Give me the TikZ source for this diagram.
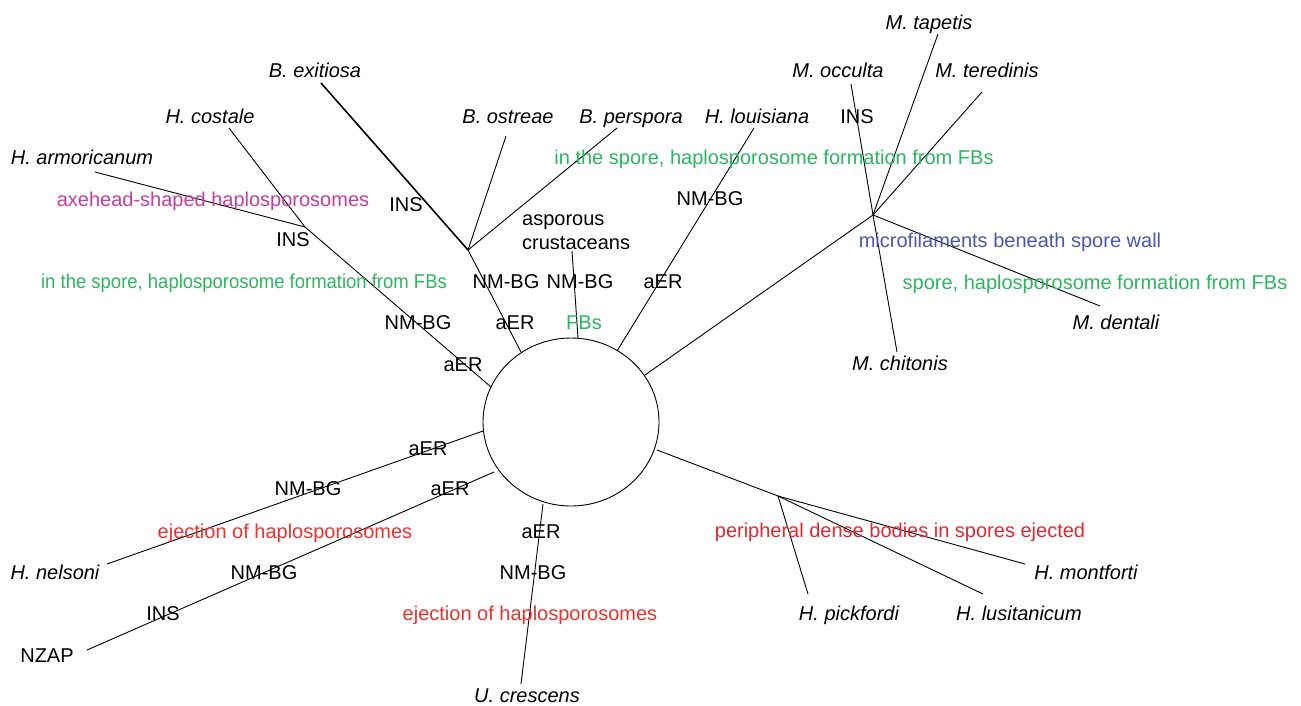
\documentclass[tikz,border=0pt]{standalone}
\usepackage{fontspec}
\setmainfont{Liberation Sans}
\usetikzlibrary{shapes.geometric}
\definecolor{cgreen}{RGB}{44,182,96}
\definecolor{cmag}{RGB}{196,62,158}
\definecolor{cblue}{RGB}{72,88,170}
\definecolor{cred}{RGB}{236,50,48}
\definecolor{cred2}{RGB}{222,40,50}
\tikzset{
  lbl/.style={inner sep=0pt, text height=14.3bp, text depth=0pt, anchor=center, font=\fontsize{20bp}{24bp}\selectfont},
  sp/.style={lbl, font=\fontsize{20bp}{24bp}\selectfont\itshape},
  mk/.style={lbl},
  grn/.style={lbl, text=cgreen},
  edge/.style={draw=black, line width=0.9bp},
  thickedge/.style={draw=black, line width=1.6bp}
}
\begin{document}
\begin{tikzpicture}[x=1bp,y=-1bp]
\useasboundingbox (0,0) rectangle (1301,705);
% central circle
\node (core) [ellipse, draw, line width=0.9bp, minimum width=176bp, minimum height=168bp, inner sep=0pt] at (571,422) {};
% junctions and line ends
\coordinate (Hj) at (305,227);
\coordinate (Bj) at (468,250);
\coordinate (Mj) at (873,215);
\coordinate (Pj) at (778,496);
\coordinate (eArm) at (95,172);
\coordinate (eCos) at (229,128);
\coordinate (eExi) at (321,83);
\coordinate (eOst) at (506,136);
\coordinate (ePer) at (617,128);
\coordinate (eAsp) at (572,251);
\coordinate (eLou) at (754,128);
\coordinate (eOcc) at (851,84);
\coordinate (eTap) at (938,34);
\coordinate (eTer) at (982,92);
\coordinate (eDen) at (1100,306);
\coordinate (eChi) at (897,352);
\coordinate (eMon) at (1025,564);
\coordinate (ePic) at (808,594);
\coordinate (eLus) at (983,594);
\coordinate (eUcr) at (521,684);
\coordinate (eNza) at (87,650);
\coordinate (eNel) at (107,564);
% points on circle
\coordinate (cH) at (491,387);
\coordinate (cB) at (521,352);
\coordinate (cA) at (578,338);
\coordinate (cL) at (617,351);
\coordinate (cM) at (645,375);
\coordinate (cP) at (657,450);
\coordinate (cU) at (543,504);
\coordinate (cZ) at (494,472);
\coordinate (cN) at (483,431);
% connectors
\draw[edge] (eArm) -- (Hj);
\draw[edge] (eCos) -- (Hj);
\draw[edge] (Hj) -- (cH);
\draw[thickedge] (eExi) -- (Bj);
\draw[edge] (eOst) -- (Bj);
\draw[edge] (ePer) -- (Bj);
\draw[edge] (Bj) -- (cB);
\draw[edge] (eAsp) -- (cA);
\draw[edge] (eLou) -- (cL);
\draw[edge] (eOcc) -- (Mj);
\draw[edge] (eTap) -- (Mj);
\draw[edge] (eTer) -- (Mj);
\draw[edge] (Mj) -- (eDen);
\draw[edge] (Mj) -- (eChi);
\draw[edge] (Mj) -- (cM);
\draw[edge] (cP) -- (Pj);
\draw[edge] (Pj) -- (eMon);
\draw[edge] (Pj) -- (ePic);
\draw[edge] (Pj) -- (eLus);
\draw[edge] (cU) -- (eUcr);
\draw[edge] (cZ) -- (eNza);
\draw[edge] (cN) -- (eNel);
% species labels
\node[sp] (exi) at (315,70) {B. exitiosa};
\node[sp] (cos) at (210,116) {H. costale};
\node[sp] (ost) at (508,116) {B. ostreae};
\node[sp] (per) at (631,116) {B. perspora};
\node[sp] (arm) at (82,157) {H. armoricanum};
\node[sp] (lou) at (757,116) {H. louisiana};
\node[sp] (tap) at (929,22) {M. tapetis};
\node[sp] (occ) at (838,70) {M. occulta};
\node[sp] (ter) at (987,70) {M. teredinis};
\node[sp] (den) at (1116,322) {M. dentali};
\node[sp] (chi) at (900,363) {M. chitonis};
\node[sp] (nel) at (55,572) {H. nelsoni};
\node[sp] (ucr) at (527,695) {U. crescens};
\node[sp] (pic) at (849,613) {H. pickfordi};
\node[sp] (lus) at (1019,613) {H. lusitanicum};
\node[sp] (mon) at (1086,572) {H. montforti};
\node[mk] (nza) at (47,655) {NZAP};
\node[anchor=north west, align=left, inner sep=0pt, font=\fontsize{20bp}{24bp}\selectfont] (asp) at (522,208.2) {\strut asporous\\crustaceans};
% markers
\node[mk] (ins1) at (406,204) {INS};
\node[mk] (ins2) at (293,239) {INS};
\node[mk] (ins3) at (857,116) {INS};
\node[mk] (ins4) at (163,613) {INS};
\node[mk] (nm1) at (506,281) {NM-BG};
\node[mk] (nm2) at (580,281) {NM-BG};
\node[mk] (nm3) at (418,322) {NM-BG};
\node[mk] (nm4) at (710,198) {NM-BG};
\node[mk] (nm5) at (308,488) {NM-BG};
\node[mk] (nm6) at (264,572) {NM-BG};
\node[mk] (nm7) at (533,572) {NM-BG};
\node[mk] (aer1) at (515,322) {aER};
\node[mk] (aer2) at (463,364) {aER};
\node[mk] (aer3) at (663,281) {aER};
\node[mk] (aer4) at (428,448) {aER};
\node[mk] (aer5) at (450,488) {aER};
\node[mk] (aer6) at (541,531) {aER};
% coloured annotations
\node[grn] (fbs) at (584,322) {FBs};
\node[grn] (g1) at (774,157) {in the spore, haplosporosome formation from FBs};
\node[grn] (g2) at (244,281) {\scalebox{0.924}[1]{in the spore, haplosporosome formation from FBs}};
\node[grn] (g3) at (1095,282) {spore, haplosporosome formation from FBs};
\node[lbl, text=cmag] (axe) at (213,199) {axehead-shaped haplosporosomes};
\node[lbl, text=cblue] (mic) at (1010,240) {microfilaments beneath spore wall};
\node[lbl, text=cred] (ej1) at (285,531) {ejection of haplosporosomes};
\node[lbl, text=cred] (ej2) at (530,613) {ejection of haplosporosomes};
\node[lbl, text=cred2] (pdb) at (900,530) {peripheral dense bodies in spores ejected};
\end{tikzpicture}
\end{document}
